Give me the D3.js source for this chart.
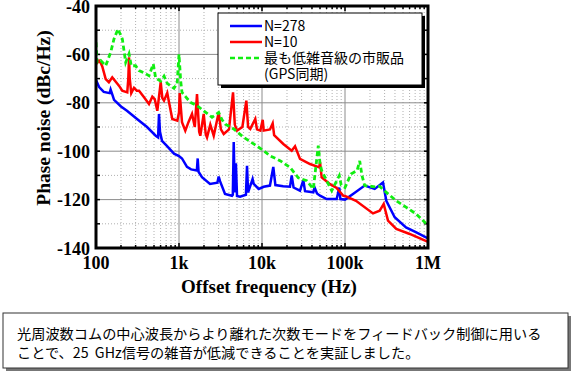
<!DOCTYPE html>
<html lang="ja">
<head>
<meta charset="UTF-8">
<title>Phase noise</title>
<script src="https://cdn.jsdelivr.net/npm/d3@7/dist/d3.min.js"></script>
<style>
  body { margin: 0; background: #fff; }
  svg { display: block; }
</style>
</head>
<body>
<script>
// tick labels
var xTicks = [100, 1e3, 1e4, 1e5, 1e6];
var xTickLabels = ["100", "1k", "10k", "100k", "1M"];
var yTicks = [-40, -60, -80, -100, -120, -140];

// series: [frequency Hz, dBc/Hz]
var blue278 = [
  [100, -70.6], [109, -73.5], [124, -75.5], [146, -76], [150, -74.5], [157, -76.5],
  [165, -78.8], [200, -81.5], [236, -83.3], [312, -86.7], [412, -90], [524, -93.6],
  [560, -94.3], [574, -84.6], [590, -92], [624, -95.7], [700, -97.5], [871, -101],
  [1000, -102], [1087, -103], [1248, -106.5], [1400, -107.5], [1640, -108],
  [1680, -103], [1720, -108.5], [1892, -110.7], [2362, -113.5], [2900, -113],
  [3008, -110.5], [3120, -112.4], [3583, -117.7], [4352, -118.4], [4450, -118],
  [4563, -96.2], [4700, -117], [4850, -105], [5000, -118.5], [5435, -118.8],
  [6400, -118], [6600, -106], [6800, -117], [7700, -111.5], [7943, -113.5],
  [9127, -115.6], [10480, -114.7], [12470, -114.2], [13680, -106.5], [14500, -114],
  [18000, -114.5], [21740, -114.7], [22800, -110], [24000, -115], [28700, -116.3],
  [31470, -112], [33000, -116.5], [41520, -117], [43000, -115], [46000, -117.5],
  [50000, -118.4], [60200, -119.8], [79430, -119.8], [85360, -115], [88000, -119.8],
  [100000, -120], [124900, -117.7], [172600, -114.2], [227800, -115.6],
  [287000, -112.9], [314600, -120.5], [397000, -127.3], [543000, -131.5],
  [723000, -133.5], [1000000, -136]
];

var red10 = [
  [100, -64], [108.7, -62.6], [114, -63.5], [119, -65], [130.9, -70.2], [143, -71.5],
  [157, -69.5], [175, -71.5], [190, -73], [207, -75], [238, -75.7], [245, -70],
  [250, -61.2], [255, -70], [266, -76], [287, -73.8], [310, -75], [330, -75],
  [379, -77.7], [435, -80.5], [477, -77.5], [510, -78.5], [548, -83.3], [602, -71.5],
  [630, -78], [660, -79.1], [722, -75.9], [760, -80], [830, -86.7], [954, -87.4],
  [1000, -84], [1020, -76], [1087, -88], [1191, -91.5], [1300, -88], [1435, -84.6],
  [1550, -90], [1648, -76.4], [1750, -92], [1806, -93.6], [1985, -84.6], [2100, -93],
  [2175, -94.3], [2383, -89], [2620, -93.6], [3008, -84], [3200, -91], [3456, -92.9],
  [4000, -91], [4477, -75.7], [4700, -89], [5003, -91.5], [5800, -90], [6475, -79.1],
  [6800, -90], [7224, -90.8], [8300, -86.7], [8700, -91], [9550, -91.5],
  [10200, -87], [10480, -91.5], [12470, -91], [13450, -88.5], [14000, -93.4],
  [18060, -97], [22800, -99.8], [25000, -98], [28700, -103.2], [37880, -105.3],
  [48980, -106.7], [50000, -104.5], [52360, -110.8], [65960, -113.6], [79430, -115.2],
  [95500, -118.4], [100000, -118.5], [135700, -120.5], [217400, -125.7],
  [261800, -124.6], [292600, -121.8], [329600, -128.7], [415000, -132.1],
  [602000, -134.2], [1000000, -137.5]
];

var greenGps = [
  [100, -55], [103, -63.3], [113.9, -62.5], [130.9, -64.7], [150.4, -59.1],
  [164.8, -53.6], [184, -49.5], [207.5, -53.6], [228, -63.3], [250, -59.8],
  [266, -64.7], [300, -64.7], [330, -66.7], [379, -67.6], [435, -68.8], [490, -64],
  [524, -69.8], [602, -71], [660, -69], [722, -72], [871, -74], [950, -72],
  [1000, -60], [1048, -71], [1087, -75.7], [1368, -79.8], [1648, -81.2],
  [1985, -83.3], [2500, -86], [3008, -84], [3300, -87], [3612, -88.8], [4563, -90.8],
  [6024, -94.3], [7943, -97], [10480, -99.8], [12470, -101.9], [16480, -103.9],
  [21740, -106.7], [27370, -111], [34540, -112.2], [41520, -115.6], [47660, -97.7],
  [50000, -105], [52360, -108], [60200, -112.2], [69180, -116.3], [85360, -110.1],
  [90000, -114], [100000, -115], [118100, -109.4], [140000, -108], [150300, -104],
  [160000, -110], [172600, -114.2], [227800, -114.7], [260000, -114.5],
  [314600, -117], [415000, -120.5], [548000, -123.2], [723000, -126],
  [955000, -130], [1000000, -130.5]
];

var legendLabels = ["N=278", "N=10", "最も低雑音級の市販品", "(GPS同期)"];
var captionLines = [
  "光周波数コムの中心波長からより離れた次数モードをフィードバック制御に用いる",
  "ことで、25\u00a0\u00a0GHz信号の雑音が低減できることを実証しました。"
];

var w = 574, h = 377;
var pL = 96, pR = 428, pT = 6, pB = 248;

var svg = d3.select("body").append("svg")
  .attr("width", w).attr("height", h);

var x = d3.scaleLog().domain([100, 1e6]).range([pL, pR]);
var y = d3.scaleLinear().domain([-140, -40]).range([pB, pT]);

// minor grid
var xMinor = [];
for (var d = 100; d < 1e6; d *= 10) {
  for (var k = 2; k <= 9; k++) xMinor.push(d * k);
}
var yMinor = d3.range(-130, -40, 20);

svg.append("g").selectAll("line").data(xMinor).enter().append("line")
  .attr("x1", function(d) { return x(d); }).attr("x2", function(d) { return x(d); })
  .attr("y1", pT).attr("y2", pB)
  .attr("stroke", "#b0b0b0").attr("stroke-dasharray", "1,2");
svg.append("g").selectAll("line").data(yMinor).enter().append("line")
  .attr("x1", pL).attr("x2", pR)
  .attr("y1", function(d) { return y(d); }).attr("y2", function(d) { return y(d); })
  .attr("stroke", "#b0b0b0").attr("stroke-dasharray", "1,2");

// major grid
svg.append("g").selectAll("line").data(xTicks).enter().append("line")
  .attr("x1", function(d) { return x(d); }).attr("x2", function(d) { return x(d); })
  .attr("y1", pT).attr("y2", pB)
  .attr("stroke", "#8c8c8c");
svg.append("g").selectAll("line").data(yTicks).enter().append("line")
  .attr("x1", pL).attr("x2", pR)
  .attr("y1", function(d) { return y(d); }).attr("y2", function(d) { return y(d); })
  .attr("stroke", "#8c8c8c");

// inward ticks on all sides
var tk = svg.append("g").attr("stroke", "#000").attr("stroke-width", 1.5);
xMinor.forEach(function(d) {
  tk.append("line").attr("x1", x(d)).attr("x2", x(d)).attr("y1", pB).attr("y2", pB - 3);
  tk.append("line").attr("x1", x(d)).attr("x2", x(d)).attr("y1", pT).attr("y2", pT + 3);
});
xTicks.forEach(function(d) {
  tk.append("line").attr("x1", x(d)).attr("x2", x(d)).attr("y1", pB).attr("y2", pB - 5);
  tk.append("line").attr("x1", x(d)).attr("x2", x(d)).attr("y1", pT).attr("y2", pT + 5);
});
d3.range(-140, -39, 10).forEach(function(d) {
  tk.append("line").attr("x1", pL).attr("x2", pL + 4).attr("y1", y(d)).attr("y2", y(d));
  tk.append("line").attr("x1", pR).attr("x2", pR - 4).attr("y1", y(d)).attr("y2", y(d));
});

// lines
svg.append("clipPath").attr("id", "clip").append("rect")
  .attr("x", pL).attr("y", pT).attr("width", pR - pL).attr("height", pB - pT);

var line = d3.line()
  .x(function(d) { return x(d[0]); })
  .y(function(d) { return y(d[1]); });

var plot = svg.append("g").attr("clip-path", "url(#clip)");
plot.append("path").datum(blue278).attr("d", line)
  .attr("fill", "none").attr("stroke", "#0000ff").attr("stroke-width", 2.5);
plot.append("path").datum(red10).attr("d", line)
  .attr("fill", "none").attr("stroke", "#ff0000").attr("stroke-width", 2.5);
plot.append("path").datum(greenGps).attr("d", line)
  .attr("fill", "none").attr("stroke", "#11ee11").attr("stroke-width", 2.8)
  .attr("stroke-dasharray", "5,3");

// frame
svg.append("rect").attr("x", pL).attr("y", pT)
  .attr("width", pR - pL).attr("height", pB - pT)
  .attr("fill", "none").attr("stroke", "#000").attr("stroke-width", 3);

// tick labels
var serif = "'Liberation Serif', 'Times New Roman', serif";
svg.append("g").selectAll("text").data(yTicks).enter().append("text")
  .attr("x", pL - 6).attr("y", function(d) { return y(d) + 6.5; })
  .attr("text-anchor", "end")
  .style("font", "bold 18px " + serif)
  .text(function(d) { return d; });
svg.append("g").selectAll("text").data(xTicks).enter().append("text")
  .attr("x", function(d) { return x(d); }).attr("y", pB + 21)
  .attr("text-anchor", "middle")
  .style("font", "bold 18px " + serif)
  .text(function(d, i) { return xTickLabels[i]; });

// axis titles
svg.append("text").attr("x", 269).attr("y", 293)
  .attr("text-anchor", "middle").style("font", "bold 19px " + serif)
  .text("Offset frequency (Hz)");
svg.append("text")
  .attr("transform", "translate(50,118) rotate(-90)")
  .attr("text-anchor", "middle").style("font", "bold 19.5px " + serif)
  .text("Phase noise (dBc/Hz)");

// legend
var jp = "'Noto Sans CJK JP', sans-serif";
var lg = svg.append("g");
lg.append("rect").attr("x", 221).attr("y", 16).attr("width", 204).attr("height", 72).attr("fill", "#000");
lg.append("rect").attr("x", 218).attr("y", 13).attr("width", 204).attr("height", 72)
  .attr("fill", "#fff").attr("stroke", "#000").attr("stroke-width", 1);
var legendItems = [
  { c: "#0000ff", dash: null, yy: 26 },
  { c: "#ff0000", dash: null, yy: 42 },
  { c: "#11ee11", dash: "5,3", yy: 58 }
];
legendItems.forEach(function(it) {
  lg.append("line").attr("x1", 230).attr("x2", 262).attr("y1", it.yy).attr("y2", it.yy)
    .attr("stroke", it.c).attr("stroke-width", 2.5)
    .attr("stroke-dasharray", it.dash);
});
legendLabels.forEach(function(t, i) {
  lg.append("text").attr("x", 264).attr("y", 31 + i * 16)
    .style("font", "14px " + jp).attr("fill", "#000")
    .text(t);
});

// caption
var cap = svg.append("g");
cap.append("rect").attr("x", 6).attr("y", 316).attr("width", 565).attr("height", 55).attr("fill", "#777");
cap.append("rect").attr("x", 3).attr("y", 313).attr("width", 565).attr("height", 55)
  .attr("fill", "#fff").attr("stroke", "#333").attr("stroke-width", 1);
captionLines.forEach(function(t, i) {
  cap.append("text").attr("x", 17).attr("y", 339 + i * 19)
    .style("font", "14.2px " + jp)
    .text(t);
});
</script>
</body>
</html>
